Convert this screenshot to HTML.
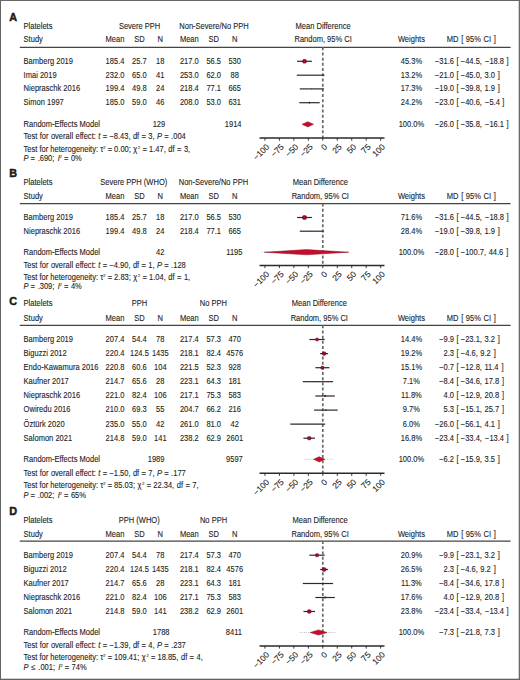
<!DOCTYPE html>
<html><head><meta charset="utf-8"><title>Forest plots</title>
<style>
html,body{margin:0;padding:0;background:#fff;}
body{width:520px;height:680px;overflow:hidden;}
svg{display:block;}
svg{font-family:"Liberation Sans",sans-serif;font-size:8.2px;fill:#222;}
svg text{stroke:#222;stroke-width:0.1px;}
.t{letter-spacing:0.0px;}
</style></head>
<body>
<svg width="520" height="680" viewBox="0 0 520 680">
<rect x="0" y="0" width="520" height="680" fill="#fff"/>
<text x="9.20" y="20.80" font-weight="bold" font-size="10.8" style="stroke:#111;stroke-width:0.45px">A</text>
<text class="t" transform="translate(23.60 28.50) scale(0.92 1)">Platelets</text>
<text class="t" transform="translate(139.60 28.50) scale(0.92 1)" text-anchor="middle">Severe PPH</text>
<text class="t" transform="translate(214.00 28.50) scale(0.92 1)" text-anchor="middle">Non-Severe/No PPH</text>
<text class="t" transform="translate(323.10 28.50) scale(0.92 1)" text-anchor="middle">Mean Difference</text>
<text class="t" transform="translate(23.60 42.40) scale(0.92 1)">Study</text>
<text class="t" transform="translate(115.00 42.40) scale(0.92 1)" text-anchor="middle">Mean</text>
<text class="t" transform="translate(139.40 42.40) scale(0.92 1)" text-anchor="middle">SD</text>
<text class="t" transform="translate(160.30 42.40) scale(0.92 1)" text-anchor="middle">N</text>
<text class="t" transform="translate(189.30 42.40) scale(0.92 1)" text-anchor="middle">Mean</text>
<text class="t" transform="translate(213.70 42.40) scale(0.92 1)" text-anchor="middle">SD</text>
<text class="t" transform="translate(234.70 42.40) scale(0.92 1)" text-anchor="middle">N</text>
<text class="t" transform="translate(323.10 42.40) scale(0.92 1)" text-anchor="middle">Random, 95% CI</text>
<text class="t" transform="translate(411.40 42.40) scale(0.92 1)" text-anchor="middle">Weights</text>
<text class="t" transform="translate(471.30 42.40) scale(0.92 1)" text-anchor="middle" word-spacing="0.6">MD [ 95% CI ]</text>
<line x1="19.80" y1="47.30" x2="510.60" y2="47.30" stroke="#444" stroke-width="1.15"/>
<line x1="322.80" y1="47.30" x2="322.80" y2="138.10" stroke="#6a6a6a" stroke-width="1.7" stroke-dasharray="3.0 2.19"/>
<text class="t" transform="translate(23.60 63.60) scale(0.92 1)">Bamberg 2019</text>
<text class="t" transform="translate(115.00 63.60) scale(0.92 1)" text-anchor="middle">185.4</text>
<text class="t" transform="translate(139.40 63.60) scale(0.92 1)" text-anchor="middle">25.7</text>
<text class="t" transform="translate(160.30 63.60) scale(0.92 1)" text-anchor="middle">18</text>
<text class="t" transform="translate(189.30 63.60) scale(0.92 1)" text-anchor="middle">217.0</text>
<text class="t" transform="translate(213.70 63.60) scale(0.92 1)" text-anchor="middle">56.5</text>
<text class="t" transform="translate(234.70 63.60) scale(0.92 1)" text-anchor="middle">530</text>
<text class="t" transform="translate(411.40 63.60) scale(0.92 1)" text-anchor="middle">45.3%</text>
<text class="t" transform="translate(454.00 63.60) scale(0.92 1)" text-anchor="end">&#8722;31.6</text>
<text class="t" transform="translate(456.60 63.60) scale(0.92 1)">[ &#8722;44.5,<tspan dx="1.10"> &#8722;18.8</tspan><tspan dx="0.40"> ]</tspan></text>
<line x1="297.05" y1="61.30" x2="311.92" y2="61.30" stroke="#2a2a2a" stroke-width="1.2"/>
<rect x="302.76" y="59.55" width="3.50" height="3.50" rx="0.88" fill="#a80f2a" stroke="#6a0a1c" stroke-width="0.7"/>
<text class="t" transform="translate(23.60 77.50) scale(0.92 1)">Imai 2019</text>
<text class="t" transform="translate(115.00 77.50) scale(0.92 1)" text-anchor="middle">232.0</text>
<text class="t" transform="translate(139.40 77.50) scale(0.92 1)" text-anchor="middle">65.0</text>
<text class="t" transform="translate(160.30 77.50) scale(0.92 1)" text-anchor="middle">41</text>
<text class="t" transform="translate(189.30 77.50) scale(0.92 1)" text-anchor="middle">253.0</text>
<text class="t" transform="translate(213.70 77.50) scale(0.92 1)" text-anchor="middle">62.0</text>
<text class="t" transform="translate(234.70 77.50) scale(0.92 1)" text-anchor="middle">88</text>
<text class="t" transform="translate(411.40 77.50) scale(0.92 1)" text-anchor="middle">13.2%</text>
<text class="t" transform="translate(454.00 77.50) scale(0.92 1)" text-anchor="end">&#8722;21.0</text>
<text class="t" transform="translate(456.60 77.50) scale(0.92 1)">[ &#8722;45.0,<tspan dx="0.50"> 3.0</tspan><tspan dx="0.90"> ]</tspan></text>
<line x1="296.76" y1="75.20" x2="324.54" y2="75.20" stroke="#2a2a2a" stroke-width="1.2"/>
<rect x="310.30" y="74.85" width="0.70" height="0.70" fill="#860c22" opacity="0.8"/>
<text class="t" transform="translate(23.60 91.20) scale(0.92 1)">Niepraschk 2016</text>
<text class="t" transform="translate(115.00 91.20) scale(0.92 1)" text-anchor="middle">199.4</text>
<text class="t" transform="translate(139.40 91.20) scale(0.92 1)" text-anchor="middle">49.8</text>
<text class="t" transform="translate(160.30 91.20) scale(0.92 1)" text-anchor="middle">24</text>
<text class="t" transform="translate(189.30 91.20) scale(0.92 1)" text-anchor="middle">218.4</text>
<text class="t" transform="translate(213.70 91.20) scale(0.92 1)" text-anchor="middle">77.1</text>
<text class="t" transform="translate(234.70 91.20) scale(0.92 1)" text-anchor="middle">665</text>
<text class="t" transform="translate(411.40 91.20) scale(0.92 1)" text-anchor="middle">17.3%</text>
<text class="t" transform="translate(454.00 91.20) scale(0.92 1)" text-anchor="end">&#8722;19.0</text>
<text class="t" transform="translate(456.60 91.20) scale(0.92 1)">[ &#8722;39.8,<tspan dx="0.50"> 1.9</tspan><tspan dx="0.90"> ]</tspan></text>
<line x1="299.77" y1="88.90" x2="323.90" y2="88.90" stroke="#2a2a2a" stroke-width="1.2"/>
<rect x="311.35" y="88.45" width="0.90" height="0.90" fill="#860c22" opacity="0.8"/>
<text class="t" transform="translate(23.60 105.00) scale(0.92 1)">Simon 1997</text>
<text class="t" transform="translate(115.00 105.00) scale(0.92 1)" text-anchor="middle">185.0</text>
<text class="t" transform="translate(139.40 105.00) scale(0.92 1)" text-anchor="middle">59.0</text>
<text class="t" transform="translate(160.30 105.00) scale(0.92 1)" text-anchor="middle">46</text>
<text class="t" transform="translate(189.30 105.00) scale(0.92 1)" text-anchor="middle">208.0</text>
<text class="t" transform="translate(213.70 105.00) scale(0.92 1)" text-anchor="middle">53.0</text>
<text class="t" transform="translate(234.70 105.00) scale(0.92 1)" text-anchor="middle">631</text>
<text class="t" transform="translate(411.40 105.00) scale(0.92 1)" text-anchor="middle">24.2%</text>
<text class="t" transform="translate(454.00 105.00) scale(0.92 1)" text-anchor="end">&#8722;23.0</text>
<text class="t" transform="translate(456.60 105.00) scale(0.92 1)">[ &#8722;40.6,<tspan dx="1.10"> &#8722;5.4</tspan><tspan dx="0.40"> ]</tspan></text>
<line x1="299.30" y1="102.70" x2="319.68" y2="102.70" stroke="#2a2a2a" stroke-width="1.2"/>
<rect x="308.99" y="102.20" width="1.00" height="1.00" rx="0.25" fill="#a80f2a" stroke="#6a0a1c" stroke-width="0.7"/>
<text class="t" transform="translate(23.60 126.80) scale(0.92 1)">Random-Effects Model</text>
<text class="t" transform="translate(158.95 126.80) scale(0.92 1)" text-anchor="middle">129</text>
<text class="t" transform="translate(233.15 126.80) scale(0.92 1)" text-anchor="middle">1914</text>
<text class="t" transform="translate(411.40 126.80) scale(0.92 1)" text-anchor="middle">100.0%</text>
<text class="t" transform="translate(454.00 126.80) scale(0.92 1)" text-anchor="end">&#8722;26.0</text>
<text class="t" transform="translate(456.60 126.80) scale(0.92 1)">[ &#8722;35.8,<tspan dx="1.10"> &#8722;16.1</tspan><tspan dx="0.40"> ]</tspan></text>
<polygon points="302.08,124.30 307.75,121.70 313.48,124.30 307.75,126.90" fill="#c80c2c" stroke="#860c22" stroke-width="0.5"/>
<line x1="259.50" y1="138.10" x2="384.50" y2="138.10" stroke="#2a2a2a" stroke-width="1.5"/>
<line x1="264.93" y1="138.10" x2="264.93" y2="140.70" stroke="#222" stroke-width="0.9"/>
<text x="269.93" y="147.40" text-anchor="end" font-size="8.4" transform="rotate(-45 269.93 147.40)">&#8722;100</text>
<line x1="279.40" y1="138.10" x2="279.40" y2="140.70" stroke="#222" stroke-width="0.9"/>
<text x="284.40" y="147.40" text-anchor="end" font-size="8.4" transform="rotate(-45 284.40 147.40)">&#8722;75</text>
<line x1="293.87" y1="138.10" x2="293.87" y2="140.70" stroke="#222" stroke-width="0.9"/>
<text x="298.87" y="147.40" text-anchor="end" font-size="8.4" transform="rotate(-45 298.87 147.40)">&#8722;50</text>
<line x1="308.33" y1="138.10" x2="308.33" y2="140.70" stroke="#222" stroke-width="0.9"/>
<text x="313.33" y="147.40" text-anchor="end" font-size="8.4" transform="rotate(-45 313.33 147.40)">&#8722;25</text>
<line x1="322.80" y1="138.10" x2="322.80" y2="140.70" stroke="#222" stroke-width="0.9"/>
<text x="327.80" y="147.40" text-anchor="end" font-size="8.4" transform="rotate(-45 327.80 147.40)">0</text>
<line x1="337.27" y1="138.10" x2="337.27" y2="140.70" stroke="#222" stroke-width="0.9"/>
<text x="342.27" y="147.40" text-anchor="end" font-size="8.4" transform="rotate(-45 342.27 147.40)">25</text>
<line x1="351.74" y1="138.10" x2="351.74" y2="140.70" stroke="#222" stroke-width="0.9"/>
<text x="356.74" y="147.40" text-anchor="end" font-size="8.4" transform="rotate(-45 356.74 147.40)">50</text>
<line x1="366.20" y1="138.10" x2="366.20" y2="140.70" stroke="#222" stroke-width="0.9"/>
<text x="371.20" y="147.40" text-anchor="end" font-size="8.4" transform="rotate(-45 371.20 147.40)">75</text>
<line x1="380.67" y1="138.10" x2="380.67" y2="140.70" stroke="#222" stroke-width="0.9"/>
<text x="385.67" y="147.40" text-anchor="end" font-size="8.4" transform="rotate(-45 385.67 147.40)">100</text>
<text class="t" transform="translate(23.60 139.00) scale(0.92 1)" word-spacing="0.3">Test for overall effect: <tspan font-style="italic">t</tspan> = &#8722;8.43, df = 3, <tspan font-style="italic">P</tspan> = .004</text>
<text class="t" transform="translate(23.60 151.80) scale(0.92 1)">Test for heterogeneity: &#964;<tspan font-size="4.2" dy="-3.0">2</tspan><tspan dy="3.0" dx="0.3"> = 0.00;</tspan><tspan dx="0.4"> &#967;</tspan><tspan font-size="4.2" dy="-3.0" dx="0.9">2</tspan><tspan dy="3.0" dx="0.3"> = 1.47,<tspan dx="0.5"> df</tspan><tspan dx="0.3"> =</tspan><tspan dx="0.4"> 3,</tspan></tspan></text>
<text class="t" transform="translate(23.60 160.50) scale(0.92 1)" word-spacing="0.3"><tspan font-style="italic">P</tspan><tspan dx="-0.6"> =</tspan><tspan dx="0.5"> .690;</tspan><tspan dx="1.0"> </tspan><tspan font-style="italic">I</tspan><tspan font-size="4.2" dy="-3.0">2</tspan><tspan dy="3.0" dx="-0.2"> = 0%</tspan></text>
<text x="9.20" y="177.00" font-weight="bold" font-size="10.8" style="stroke:#111;stroke-width:0.45px">B</text>
<text class="t" transform="translate(23.60 184.70) scale(0.92 1)">Platelets</text>
<text class="t" transform="translate(133.80 184.70) scale(0.92 1)" text-anchor="middle">Severe PPH (WHO)</text>
<text class="t" transform="translate(213.40 184.70) scale(0.92 1)" text-anchor="middle">Non-Severe/No PPH</text>
<text class="t" transform="translate(320.30 184.70) scale(0.92 1)" text-anchor="middle">Mean Difference</text>
<text class="t" transform="translate(23.60 198.80) scale(0.92 1)">Study</text>
<text class="t" transform="translate(115.00 198.80) scale(0.92 1)" text-anchor="middle">Mean</text>
<text class="t" transform="translate(139.40 198.80) scale(0.92 1)" text-anchor="middle">SD</text>
<text class="t" transform="translate(160.30 198.80) scale(0.92 1)" text-anchor="middle">N</text>
<text class="t" transform="translate(189.30 198.80) scale(0.92 1)" text-anchor="middle">Mean</text>
<text class="t" transform="translate(213.70 198.80) scale(0.92 1)" text-anchor="middle">SD</text>
<text class="t" transform="translate(234.70 198.80) scale(0.92 1)" text-anchor="middle">N</text>
<text class="t" transform="translate(320.30 198.80) scale(0.92 1)" text-anchor="middle">Random, 95% CI</text>
<text class="t" transform="translate(411.40 198.80) scale(0.92 1)" text-anchor="middle">Weights</text>
<text class="t" transform="translate(471.30 198.80) scale(0.92 1)" text-anchor="middle" word-spacing="0.6">MD [ 95% CI ]</text>
<line x1="19.80" y1="203.60" x2="510.60" y2="203.60" stroke="#444" stroke-width="1.15"/>
<line x1="322.80" y1="203.60" x2="322.80" y2="265.50" stroke="#6a6a6a" stroke-width="1.7" stroke-dasharray="3.0 2.19"/>
<text class="t" transform="translate(23.60 219.80) scale(0.92 1)">Bamberg 2019</text>
<text class="t" transform="translate(115.00 219.80) scale(0.92 1)" text-anchor="middle">185.4</text>
<text class="t" transform="translate(139.40 219.80) scale(0.92 1)" text-anchor="middle">25.7</text>
<text class="t" transform="translate(160.30 219.80) scale(0.92 1)" text-anchor="middle">18</text>
<text class="t" transform="translate(189.30 219.80) scale(0.92 1)" text-anchor="middle">217.0</text>
<text class="t" transform="translate(213.70 219.80) scale(0.92 1)" text-anchor="middle">56.5</text>
<text class="t" transform="translate(234.70 219.80) scale(0.92 1)" text-anchor="middle">530</text>
<text class="t" transform="translate(411.40 219.80) scale(0.92 1)" text-anchor="middle">71.6%</text>
<text class="t" transform="translate(454.00 219.80) scale(0.92 1)" text-anchor="end">&#8722;31.6</text>
<text class="t" transform="translate(456.60 219.80) scale(0.92 1)">[ &#8722;44.5,<tspan dx="1.10"> &#8722;18.8</tspan><tspan dx="0.40"> ]</tspan></text>
<line x1="297.05" y1="217.50" x2="311.92" y2="217.50" stroke="#2a2a2a" stroke-width="1.2"/>
<rect x="302.66" y="215.65" width="3.70" height="3.70" rx="0.93" fill="#a80f2a" stroke="#6a0a1c" stroke-width="0.7"/>
<text class="t" transform="translate(23.60 233.50) scale(0.92 1)">Niepraschk 2016</text>
<text class="t" transform="translate(115.00 233.50) scale(0.92 1)" text-anchor="middle">199.4</text>
<text class="t" transform="translate(139.40 233.50) scale(0.92 1)" text-anchor="middle">49.8</text>
<text class="t" transform="translate(160.30 233.50) scale(0.92 1)" text-anchor="middle">24</text>
<text class="t" transform="translate(189.30 233.50) scale(0.92 1)" text-anchor="middle">218.4</text>
<text class="t" transform="translate(213.70 233.50) scale(0.92 1)" text-anchor="middle">77.1</text>
<text class="t" transform="translate(234.70 233.50) scale(0.92 1)" text-anchor="middle">665</text>
<text class="t" transform="translate(411.40 233.50) scale(0.92 1)" text-anchor="middle">28.4%</text>
<text class="t" transform="translate(454.00 233.50) scale(0.92 1)" text-anchor="end">&#8722;19.0</text>
<text class="t" transform="translate(456.60 233.50) scale(0.92 1)">[ &#8722;39.8,<tspan dx="0.50"> 1.9</tspan><tspan dx="0.90"> ]</tspan></text>
<line x1="299.77" y1="231.20" x2="323.90" y2="231.20" stroke="#2a2a2a" stroke-width="1.2"/>
<rect x="311.45" y="230.85" width="0.70" height="0.70" fill="#860c22" opacity="0.8"/>
<text class="t" transform="translate(23.60 254.70) scale(0.92 1)">Random-Effects Model</text>
<text class="t" transform="translate(160.15 254.70) scale(0.92 1)" text-anchor="middle">42</text>
<text class="t" transform="translate(234.35 254.70) scale(0.92 1)" text-anchor="middle">1195</text>
<text class="t" transform="translate(411.40 254.70) scale(0.92 1)" text-anchor="middle">100.0%</text>
<text class="t" transform="translate(454.00 254.70) scale(0.92 1)" text-anchor="end">&#8722;28.0</text>
<text class="t" transform="translate(456.60 254.70) scale(0.92 1)">[ &#8722;100.7,<tspan dx="0.50"> 44.6</tspan><tspan dx="0.90"> ]</tspan></text>
<line x1="261.75" y1="252.20" x2="349.02" y2="252.20" stroke="#aaa" stroke-width="0.8" stroke-dasharray="1 1.2"/>
<polygon points="264.52,252.20 306.60,249.60 348.61,252.20 306.60,254.80" fill="#c80c2c" stroke="#860c22" stroke-width="0.5"/>
<line x1="259.50" y1="265.50" x2="384.50" y2="265.50" stroke="#2a2a2a" stroke-width="1.5"/>
<line x1="264.93" y1="265.50" x2="264.93" y2="268.10" stroke="#222" stroke-width="0.9"/>
<text x="269.93" y="274.80" text-anchor="end" font-size="8.4" transform="rotate(-45 269.93 274.80)">&#8722;100</text>
<line x1="279.40" y1="265.50" x2="279.40" y2="268.10" stroke="#222" stroke-width="0.9"/>
<text x="284.40" y="274.80" text-anchor="end" font-size="8.4" transform="rotate(-45 284.40 274.80)">&#8722;75</text>
<line x1="293.87" y1="265.50" x2="293.87" y2="268.10" stroke="#222" stroke-width="0.9"/>
<text x="298.87" y="274.80" text-anchor="end" font-size="8.4" transform="rotate(-45 298.87 274.80)">&#8722;50</text>
<line x1="308.33" y1="265.50" x2="308.33" y2="268.10" stroke="#222" stroke-width="0.9"/>
<text x="313.33" y="274.80" text-anchor="end" font-size="8.4" transform="rotate(-45 313.33 274.80)">&#8722;25</text>
<line x1="322.80" y1="265.50" x2="322.80" y2="268.10" stroke="#222" stroke-width="0.9"/>
<text x="327.80" y="274.80" text-anchor="end" font-size="8.4" transform="rotate(-45 327.80 274.80)">0</text>
<line x1="337.27" y1="265.50" x2="337.27" y2="268.10" stroke="#222" stroke-width="0.9"/>
<text x="342.27" y="274.80" text-anchor="end" font-size="8.4" transform="rotate(-45 342.27 274.80)">25</text>
<line x1="351.74" y1="265.50" x2="351.74" y2="268.10" stroke="#222" stroke-width="0.9"/>
<text x="356.74" y="274.80" text-anchor="end" font-size="8.4" transform="rotate(-45 356.74 274.80)">50</text>
<line x1="366.20" y1="265.50" x2="366.20" y2="268.10" stroke="#222" stroke-width="0.9"/>
<text x="371.20" y="274.80" text-anchor="end" font-size="8.4" transform="rotate(-45 371.20 274.80)">75</text>
<line x1="380.67" y1="265.50" x2="380.67" y2="268.10" stroke="#222" stroke-width="0.9"/>
<text x="385.67" y="274.80" text-anchor="end" font-size="8.4" transform="rotate(-45 385.67 274.80)">100</text>
<text class="t" transform="translate(23.60 267.50) scale(0.92 1)" word-spacing="0.3">Test for overall effect: <tspan font-style="italic">t</tspan> = &#8722;4.90, df = 1, <tspan font-style="italic">P</tspan> = .128</text>
<text class="t" transform="translate(23.60 280.20) scale(0.92 1)">Test for heterogeneity: &#964;<tspan font-size="4.2" dy="-3.0">2</tspan><tspan dy="3.0" dx="0.3"> = 2.83;</tspan><tspan dx="0.4"> &#967;</tspan><tspan font-size="4.2" dy="-3.0" dx="0.9">2</tspan><tspan dy="3.0" dx="0.3"> = 1.04,<tspan dx="0.5"> df</tspan><tspan dx="0.3"> =</tspan><tspan dx="0.4"> 1,</tspan></tspan></text>
<text class="t" transform="translate(23.60 289.00) scale(0.92 1)" word-spacing="0.3"><tspan font-style="italic">P</tspan><tspan dx="-0.6"> =</tspan><tspan dx="0.5"> .309;</tspan><tspan dx="1.0"> </tspan><tspan font-style="italic">I</tspan><tspan font-size="4.2" dy="-3.0">2</tspan><tspan dy="3.0" dx="-0.2"> = 4%</tspan></text>
<text x="9.20" y="304.80" font-weight="bold" font-size="10.8" style="stroke:#111;stroke-width:0.45px">C</text>
<text class="t" transform="translate(23.60 306.40) scale(0.92 1)">Platelets</text>
<text class="t" transform="translate(139.50 306.40) scale(0.92 1)" text-anchor="middle">PPH</text>
<text class="t" transform="translate(213.30 306.40) scale(0.92 1)" text-anchor="middle">No PPH</text>
<text class="t" transform="translate(319.30 306.40) scale(0.92 1)" text-anchor="middle">Mean Difference</text>
<text class="t" transform="translate(23.60 320.80) scale(0.92 1)">Study</text>
<text class="t" transform="translate(115.00 320.80) scale(0.92 1)" text-anchor="middle">Mean</text>
<text class="t" transform="translate(139.40 320.80) scale(0.92 1)" text-anchor="middle">SD</text>
<text class="t" transform="translate(160.30 320.80) scale(0.92 1)" text-anchor="middle">N</text>
<text class="t" transform="translate(189.30 320.80) scale(0.92 1)" text-anchor="middle">Mean</text>
<text class="t" transform="translate(213.70 320.80) scale(0.92 1)" text-anchor="middle">SD</text>
<text class="t" transform="translate(234.70 320.80) scale(0.92 1)" text-anchor="middle">N</text>
<text class="t" transform="translate(319.30 320.80) scale(0.92 1)" text-anchor="middle">Random, 95% CI</text>
<text class="t" transform="translate(411.40 320.80) scale(0.92 1)" text-anchor="middle">Weights</text>
<text class="t" transform="translate(471.30 320.80) scale(0.92 1)" text-anchor="middle" word-spacing="0.6">MD [ 95% CI ]</text>
<line x1="19.80" y1="325.30" x2="510.60" y2="325.30" stroke="#444" stroke-width="1.15"/>
<line x1="322.80" y1="325.30" x2="322.80" y2="473.30" stroke="#6a6a6a" stroke-width="1.7" stroke-dasharray="3.0 2.19"/>
<text class="t" transform="translate(23.60 341.80) scale(0.92 1)">Bamberg 2019</text>
<text class="t" transform="translate(115.00 341.80) scale(0.92 1)" text-anchor="middle">207.4</text>
<text class="t" transform="translate(139.40 341.80) scale(0.92 1)" text-anchor="middle">54.4</text>
<text class="t" transform="translate(160.30 341.80) scale(0.92 1)" text-anchor="middle">78</text>
<text class="t" transform="translate(189.30 341.80) scale(0.92 1)" text-anchor="middle">217.4</text>
<text class="t" transform="translate(213.70 341.80) scale(0.92 1)" text-anchor="middle">57.3</text>
<text class="t" transform="translate(234.70 341.80) scale(0.92 1)" text-anchor="middle">470</text>
<text class="t" transform="translate(411.40 341.80) scale(0.92 1)" text-anchor="middle">14.4%</text>
<text class="t" transform="translate(454.00 341.80) scale(0.92 1)" text-anchor="end">&#8722;9.9</text>
<text class="t" transform="translate(456.60 341.80) scale(0.92 1)">[ &#8722;23.1,<tspan dx="0.50"> 3.2</tspan><tspan dx="0.90"> ]</tspan></text>
<line x1="309.43" y1="339.50" x2="324.65" y2="339.50" stroke="#2a2a2a" stroke-width="1.2"/>
<rect x="315.77" y="338.20" width="2.60" height="2.60" rx="0.65" fill="#a80f2a" stroke="#6a0a1c" stroke-width="0.7"/>
<text class="t" transform="translate(23.60 355.90) scale(0.92 1)">Biguzzi 2012</text>
<text class="t" transform="translate(115.00 355.90) scale(0.92 1)" text-anchor="middle">220.4</text>
<text class="t" transform="translate(139.40 355.90) scale(0.92 1)" text-anchor="middle">124.5</text>
<text class="t" transform="translate(160.30 355.90) scale(0.92 1)" text-anchor="middle">1435</text>
<text class="t" transform="translate(189.30 355.90) scale(0.92 1)" text-anchor="middle">218.1</text>
<text class="t" transform="translate(213.70 355.90) scale(0.92 1)" text-anchor="middle">82.4</text>
<text class="t" transform="translate(234.70 355.90) scale(0.92 1)" text-anchor="middle">4576</text>
<text class="t" transform="translate(411.40 355.90) scale(0.92 1)" text-anchor="middle">19.2%</text>
<text class="t" transform="translate(454.00 355.90) scale(0.92 1)" text-anchor="end">2.3</text>
<text class="t" transform="translate(456.60 355.90) scale(0.92 1)">[ &#8722;4.6,<tspan dx="0.50"> 9.2</tspan><tspan dx="0.90"> ]</tspan></text>
<line x1="320.14" y1="353.60" x2="328.12" y2="353.60" stroke="#2a2a2a" stroke-width="1.2"/>
<rect x="322.53" y="352.00" width="3.20" height="3.20" rx="0.80" fill="#a80f2a" stroke="#6a0a1c" stroke-width="0.7"/>
<text class="t" transform="translate(23.60 370.00) scale(0.92 1)">Endo-Kawamura 2016</text>
<text class="t" transform="translate(115.00 370.00) scale(0.92 1)" text-anchor="middle">220.8</text>
<text class="t" transform="translate(139.40 370.00) scale(0.92 1)" text-anchor="middle">60.6</text>
<text class="t" transform="translate(160.30 370.00) scale(0.92 1)" text-anchor="middle">104</text>
<text class="t" transform="translate(189.30 370.00) scale(0.92 1)" text-anchor="middle">221.5</text>
<text class="t" transform="translate(213.70 370.00) scale(0.92 1)" text-anchor="middle">52.3</text>
<text class="t" transform="translate(234.70 370.00) scale(0.92 1)" text-anchor="middle">928</text>
<text class="t" transform="translate(411.40 370.00) scale(0.92 1)" text-anchor="middle">15.1%</text>
<text class="t" transform="translate(454.00 370.00) scale(0.92 1)" text-anchor="end">&#8722;0.7</text>
<text class="t" transform="translate(456.60 370.00) scale(0.92 1)">[ &#8722;12.8,<tspan dx="0.50"> 11.4</tspan><tspan dx="0.90"> ]</tspan></text>
<line x1="315.39" y1="367.70" x2="329.40" y2="367.70" stroke="#2a2a2a" stroke-width="1.2"/>
<rect x="320.99" y="366.30" width="2.80" height="2.80" rx="0.70" fill="#a80f2a" stroke="#6a0a1c" stroke-width="0.7"/>
<text class="t" transform="translate(23.60 384.00) scale(0.92 1)">Kaufner 2017</text>
<text class="t" transform="translate(115.00 384.00) scale(0.92 1)" text-anchor="middle">214.7</text>
<text class="t" transform="translate(139.40 384.00) scale(0.92 1)" text-anchor="middle">65.6</text>
<text class="t" transform="translate(160.30 384.00) scale(0.92 1)" text-anchor="middle">28</text>
<text class="t" transform="translate(189.30 384.00) scale(0.92 1)" text-anchor="middle">223.1</text>
<text class="t" transform="translate(213.70 384.00) scale(0.92 1)" text-anchor="middle">64.3</text>
<text class="t" transform="translate(234.70 384.00) scale(0.92 1)" text-anchor="middle">181</text>
<text class="t" transform="translate(411.40 384.00) scale(0.92 1)" text-anchor="middle">7.1%</text>
<text class="t" transform="translate(454.00 384.00) scale(0.92 1)" text-anchor="end">&#8722;8.4</text>
<text class="t" transform="translate(456.60 384.00) scale(0.92 1)">[ &#8722;34.6,<tspan dx="0.50"> 17.8</tspan><tspan dx="0.90"> ]</tspan></text>
<line x1="302.78" y1="381.70" x2="333.10" y2="381.70" stroke="#2a2a2a" stroke-width="1.2"/>
<rect x="317.49" y="381.25" width="0.90" height="0.90" fill="#860c22" opacity="0.8"/>
<text class="t" transform="translate(23.60 398.30) scale(0.92 1)">Niepraschk 2016</text>
<text class="t" transform="translate(115.00 398.30) scale(0.92 1)" text-anchor="middle">221.0</text>
<text class="t" transform="translate(139.40 398.30) scale(0.92 1)" text-anchor="middle">82.4</text>
<text class="t" transform="translate(160.30 398.30) scale(0.92 1)" text-anchor="middle">106</text>
<text class="t" transform="translate(189.30 398.30) scale(0.92 1)" text-anchor="middle">217.1</text>
<text class="t" transform="translate(213.70 398.30) scale(0.92 1)" text-anchor="middle">75.3</text>
<text class="t" transform="translate(234.70 398.30) scale(0.92 1)" text-anchor="middle">583</text>
<text class="t" transform="translate(411.40 398.30) scale(0.92 1)" text-anchor="middle">11.8%</text>
<text class="t" transform="translate(454.00 398.30) scale(0.92 1)" text-anchor="end">4.0</text>
<text class="t" transform="translate(456.60 398.30) scale(0.92 1)">[ &#8722;12.9,<tspan dx="0.50"> 20.8</tspan><tspan dx="0.90"> ]</tspan></text>
<line x1="315.33" y1="396.00" x2="334.84" y2="396.00" stroke="#2a2a2a" stroke-width="1.2"/>
<rect x="324.46" y="395.35" width="1.30" height="1.30" rx="0.33" fill="#a80f2a" stroke="#6a0a1c" stroke-width="0.7"/>
<text class="t" transform="translate(23.60 412.40) scale(0.92 1)">Owiredu 2016</text>
<text class="t" transform="translate(115.00 412.40) scale(0.92 1)" text-anchor="middle">210.0</text>
<text class="t" transform="translate(139.40 412.40) scale(0.92 1)" text-anchor="middle">69.3</text>
<text class="t" transform="translate(160.30 412.40) scale(0.92 1)" text-anchor="middle">55</text>
<text class="t" transform="translate(189.30 412.40) scale(0.92 1)" text-anchor="middle">204.7</text>
<text class="t" transform="translate(213.70 412.40) scale(0.92 1)" text-anchor="middle">66.2</text>
<text class="t" transform="translate(234.70 412.40) scale(0.92 1)" text-anchor="middle">216</text>
<text class="t" transform="translate(411.40 412.40) scale(0.92 1)" text-anchor="middle">9.7%</text>
<text class="t" transform="translate(454.00 412.40) scale(0.92 1)" text-anchor="end">5.3</text>
<text class="t" transform="translate(456.60 412.40) scale(0.92 1)">[ &#8722;15.1,<tspan dx="0.50"> 25.7</tspan><tspan dx="0.90"> ]</tspan></text>
<line x1="314.06" y1="410.10" x2="337.67" y2="410.10" stroke="#2a2a2a" stroke-width="1.2"/>
<rect x="325.47" y="409.70" width="0.80" height="0.80" rx="0.20" fill="#a80f2a" stroke="#6a0a1c" stroke-width="0.7"/>
<text class="t" transform="translate(23.60 426.50) scale(0.92 1)">&#214;zt&#252;rk 2020</text>
<text class="t" transform="translate(115.00 426.50) scale(0.92 1)" text-anchor="middle">235.0</text>
<text class="t" transform="translate(139.40 426.50) scale(0.92 1)" text-anchor="middle">55.0</text>
<text class="t" transform="translate(160.30 426.50) scale(0.92 1)" text-anchor="middle">42</text>
<text class="t" transform="translate(189.30 426.50) scale(0.92 1)" text-anchor="middle">261.0</text>
<text class="t" transform="translate(213.70 426.50) scale(0.92 1)" text-anchor="middle">81.0</text>
<text class="t" transform="translate(234.70 426.50) scale(0.92 1)" text-anchor="middle">42</text>
<text class="t" transform="translate(411.40 426.50) scale(0.92 1)" text-anchor="middle">6.0%</text>
<text class="t" transform="translate(454.00 426.50) scale(0.92 1)" text-anchor="end">&#8722;26.0</text>
<text class="t" transform="translate(456.60 426.50) scale(0.92 1)">[ &#8722;56.1,<tspan dx="0.50"> 4.1</tspan><tspan dx="0.90"> ]</tspan></text>
<line x1="290.33" y1="424.20" x2="325.17" y2="424.20" stroke="#2a2a2a" stroke-width="1.2"/>
<rect x="307.45" y="423.90" width="0.60" height="0.60" fill="#860c22" opacity="0.8"/>
<text class="t" transform="translate(23.60 440.50) scale(0.92 1)">Salomon 2021</text>
<text class="t" transform="translate(115.00 440.50) scale(0.92 1)" text-anchor="middle">214.8</text>
<text class="t" transform="translate(139.40 440.50) scale(0.92 1)" text-anchor="middle">59.0</text>
<text class="t" transform="translate(160.30 440.50) scale(0.92 1)" text-anchor="middle">141</text>
<text class="t" transform="translate(189.30 440.50) scale(0.92 1)" text-anchor="middle">238.2</text>
<text class="t" transform="translate(213.70 440.50) scale(0.92 1)" text-anchor="middle">62.9</text>
<text class="t" transform="translate(234.70 440.50) scale(0.92 1)" text-anchor="middle">2601</text>
<text class="t" transform="translate(411.40 440.50) scale(0.92 1)" text-anchor="middle">16.8%</text>
<text class="t" transform="translate(454.00 440.50) scale(0.92 1)" text-anchor="end">&#8722;23.4</text>
<text class="t" transform="translate(456.60 440.50) scale(0.92 1)">[ &#8722;33.4,<tspan dx="1.10"> &#8722;13.4</tspan><tspan dx="0.40"> ]</tspan></text>
<line x1="303.47" y1="438.20" x2="315.05" y2="438.20" stroke="#2a2a2a" stroke-width="1.2"/>
<rect x="307.71" y="436.65" width="3.10" height="3.10" rx="0.77" fill="#a80f2a" stroke="#6a0a1c" stroke-width="0.7"/>
<text class="t" transform="translate(23.60 461.80) scale(0.92 1)">Random-Effects Model</text>
<text class="t" transform="translate(156.10 461.80) scale(0.92 1)" text-anchor="middle">1989</text>
<text class="t" transform="translate(234.40 461.80) scale(0.92 1)" text-anchor="middle">9597</text>
<text class="t" transform="translate(411.40 461.80) scale(0.92 1)" text-anchor="middle">100.0%</text>
<text class="t" transform="translate(454.00 461.80) scale(0.92 1)" text-anchor="end">&#8722;6.2</text>
<text class="t" transform="translate(456.60 461.80) scale(0.92 1)">[ &#8722;15.9,<tspan dx="0.50"> 3.5</tspan><tspan dx="0.90"> ]</tspan></text>
<line x1="305.15" y1="459.30" x2="333.22" y2="459.30" stroke="#aaa" stroke-width="0.8" stroke-dasharray="1 1.2"/>
<polygon points="313.60,459.30 319.21,456.70 324.83,459.30 319.21,461.90" fill="#c80c2c" stroke="#860c22" stroke-width="0.5"/>
<line x1="259.50" y1="473.30" x2="384.50" y2="473.30" stroke="#2a2a2a" stroke-width="1.5"/>
<line x1="264.93" y1="473.30" x2="264.93" y2="475.90" stroke="#222" stroke-width="0.9"/>
<text x="269.93" y="482.60" text-anchor="end" font-size="8.4" transform="rotate(-45 269.93 482.60)">&#8722;100</text>
<line x1="279.40" y1="473.30" x2="279.40" y2="475.90" stroke="#222" stroke-width="0.9"/>
<text x="284.40" y="482.60" text-anchor="end" font-size="8.4" transform="rotate(-45 284.40 482.60)">&#8722;75</text>
<line x1="293.87" y1="473.30" x2="293.87" y2="475.90" stroke="#222" stroke-width="0.9"/>
<text x="298.87" y="482.60" text-anchor="end" font-size="8.4" transform="rotate(-45 298.87 482.60)">&#8722;50</text>
<line x1="308.33" y1="473.30" x2="308.33" y2="475.90" stroke="#222" stroke-width="0.9"/>
<text x="313.33" y="482.60" text-anchor="end" font-size="8.4" transform="rotate(-45 313.33 482.60)">&#8722;25</text>
<line x1="322.80" y1="473.30" x2="322.80" y2="475.90" stroke="#222" stroke-width="0.9"/>
<text x="327.80" y="482.60" text-anchor="end" font-size="8.4" transform="rotate(-45 327.80 482.60)">0</text>
<line x1="337.27" y1="473.30" x2="337.27" y2="475.90" stroke="#222" stroke-width="0.9"/>
<text x="342.27" y="482.60" text-anchor="end" font-size="8.4" transform="rotate(-45 342.27 482.60)">25</text>
<line x1="351.74" y1="473.30" x2="351.74" y2="475.90" stroke="#222" stroke-width="0.9"/>
<text x="356.74" y="482.60" text-anchor="end" font-size="8.4" transform="rotate(-45 356.74 482.60)">50</text>
<line x1="366.20" y1="473.30" x2="366.20" y2="475.90" stroke="#222" stroke-width="0.9"/>
<text x="371.20" y="482.60" text-anchor="end" font-size="8.4" transform="rotate(-45 371.20 482.60)">75</text>
<line x1="380.67" y1="473.30" x2="380.67" y2="475.90" stroke="#222" stroke-width="0.9"/>
<text x="385.67" y="482.60" text-anchor="end" font-size="8.4" transform="rotate(-45 385.67 482.60)">100</text>
<text class="t" transform="translate(23.60 475.50) scale(0.92 1)" word-spacing="0.3">Test for overall effect: <tspan font-style="italic">t</tspan> = &#8722;1.50, df = 7, <tspan font-style="italic">P</tspan> = .177</text>
<text class="t" transform="translate(23.60 487.80) scale(0.92 1)">Test for heterogeneity: &#964;<tspan font-size="4.2" dy="-3.0">2</tspan><tspan dy="3.0" dx="0.3"> = 85.03;</tspan><tspan dx="0.4"> &#967;</tspan><tspan font-size="4.2" dy="-3.0" dx="0.9">2</tspan><tspan dy="3.0" dx="0.3"> = 22.34,<tspan dx="0.5"> df</tspan><tspan dx="0.3"> =</tspan><tspan dx="0.4"> 7,</tspan></tspan></text>
<text class="t" transform="translate(23.60 497.50) scale(0.92 1)" word-spacing="0.3"><tspan font-style="italic">P</tspan><tspan dx="-0.6"> =</tspan><tspan dx="0.5"> .002;</tspan><tspan dx="1.0"> </tspan><tspan font-style="italic">I</tspan><tspan font-size="4.2" dy="-3.0">2</tspan><tspan dy="3.0" dx="-0.2"> = 65%</tspan></text>
<text x="9.20" y="515.00" font-weight="bold" font-size="10.8" style="stroke:#111;stroke-width:0.45px">D</text>
<text class="t" transform="translate(23.60 522.50) scale(0.92 1)">Platelets</text>
<text class="t" transform="translate(139.20 522.50) scale(0.92 1)" text-anchor="middle">PPH (WHO)</text>
<text class="t" transform="translate(213.50 522.50) scale(0.92 1)" text-anchor="middle">No PPH</text>
<text class="t" transform="translate(320.10 522.50) scale(0.92 1)" text-anchor="middle">Mean Difference</text>
<text class="t" transform="translate(23.60 536.80) scale(0.92 1)">Study</text>
<text class="t" transform="translate(115.00 536.80) scale(0.92 1)" text-anchor="middle">Mean</text>
<text class="t" transform="translate(139.40 536.80) scale(0.92 1)" text-anchor="middle">SD</text>
<text class="t" transform="translate(160.30 536.80) scale(0.92 1)" text-anchor="middle">N</text>
<text class="t" transform="translate(189.30 536.80) scale(0.92 1)" text-anchor="middle">Mean</text>
<text class="t" transform="translate(213.70 536.80) scale(0.92 1)" text-anchor="middle">SD</text>
<text class="t" transform="translate(234.70 536.80) scale(0.92 1)" text-anchor="middle">N</text>
<text class="t" transform="translate(320.10 536.80) scale(0.92 1)" text-anchor="middle">Random, 95% CI</text>
<text class="t" transform="translate(411.40 536.80) scale(0.92 1)" text-anchor="middle">Weights</text>
<text class="t" transform="translate(471.30 536.80) scale(0.92 1)" text-anchor="middle" word-spacing="0.6">MD [ 95% CI ]</text>
<line x1="19.80" y1="541.10" x2="510.60" y2="541.10" stroke="#444" stroke-width="1.15"/>
<line x1="322.80" y1="541.10" x2="322.80" y2="646.00" stroke="#6a6a6a" stroke-width="1.7" stroke-dasharray="3.0 2.19"/>
<text class="t" transform="translate(23.60 557.50) scale(0.92 1)">Bamberg 2019</text>
<text class="t" transform="translate(115.00 557.50) scale(0.92 1)" text-anchor="middle">207.4</text>
<text class="t" transform="translate(139.40 557.50) scale(0.92 1)" text-anchor="middle">54.4</text>
<text class="t" transform="translate(160.30 557.50) scale(0.92 1)" text-anchor="middle">78</text>
<text class="t" transform="translate(189.30 557.50) scale(0.92 1)" text-anchor="middle">217.4</text>
<text class="t" transform="translate(213.70 557.50) scale(0.92 1)" text-anchor="middle">57.3</text>
<text class="t" transform="translate(234.70 557.50) scale(0.92 1)" text-anchor="middle">470</text>
<text class="t" transform="translate(411.40 557.50) scale(0.92 1)" text-anchor="middle">20.9%</text>
<text class="t" transform="translate(454.00 557.50) scale(0.92 1)" text-anchor="end">&#8722;9.9</text>
<text class="t" transform="translate(456.60 557.50) scale(0.92 1)">[ &#8722;23.1,<tspan dx="0.50"> 3.2</tspan><tspan dx="0.90"> ]</tspan></text>
<line x1="309.43" y1="555.20" x2="324.65" y2="555.20" stroke="#2a2a2a" stroke-width="1.2"/>
<rect x="315.62" y="553.75" width="2.90" height="2.90" rx="0.73" fill="#a80f2a" stroke="#6a0a1c" stroke-width="0.7"/>
<text class="t" transform="translate(23.60 571.80) scale(0.92 1)">Biguzzi 2012</text>
<text class="t" transform="translate(115.00 571.80) scale(0.92 1)" text-anchor="middle">220.4</text>
<text class="t" transform="translate(139.40 571.80) scale(0.92 1)" text-anchor="middle">124.5</text>
<text class="t" transform="translate(160.30 571.80) scale(0.92 1)" text-anchor="middle">1435</text>
<text class="t" transform="translate(189.30 571.80) scale(0.92 1)" text-anchor="middle">218.1</text>
<text class="t" transform="translate(213.70 571.80) scale(0.92 1)" text-anchor="middle">82.4</text>
<text class="t" transform="translate(234.70 571.80) scale(0.92 1)" text-anchor="middle">4576</text>
<text class="t" transform="translate(411.40 571.80) scale(0.92 1)" text-anchor="middle">26.5%</text>
<text class="t" transform="translate(454.00 571.80) scale(0.92 1)" text-anchor="end">2.3</text>
<text class="t" transform="translate(456.60 571.80) scale(0.92 1)">[ &#8722;4.6,<tspan dx="0.50"> 9.2</tspan><tspan dx="0.90"> ]</tspan></text>
<line x1="320.14" y1="569.50" x2="328.12" y2="569.50" stroke="#2a2a2a" stroke-width="1.2"/>
<rect x="322.43" y="567.80" width="3.40" height="3.40" rx="0.85" fill="#a80f2a" stroke="#6a0a1c" stroke-width="0.7"/>
<text class="t" transform="translate(23.60 585.80) scale(0.92 1)">Kaufner 2017</text>
<text class="t" transform="translate(115.00 585.80) scale(0.92 1)" text-anchor="middle">214.7</text>
<text class="t" transform="translate(139.40 585.80) scale(0.92 1)" text-anchor="middle">65.6</text>
<text class="t" transform="translate(160.30 585.80) scale(0.92 1)" text-anchor="middle">28</text>
<text class="t" transform="translate(189.30 585.80) scale(0.92 1)" text-anchor="middle">223.1</text>
<text class="t" transform="translate(213.70 585.80) scale(0.92 1)" text-anchor="middle">64.3</text>
<text class="t" transform="translate(234.70 585.80) scale(0.92 1)" text-anchor="middle">181</text>
<text class="t" transform="translate(411.40 585.80) scale(0.92 1)" text-anchor="middle">11.3%</text>
<text class="t" transform="translate(454.00 585.80) scale(0.92 1)" text-anchor="end">&#8722;8.4</text>
<text class="t" transform="translate(456.60 585.80) scale(0.92 1)">[ &#8722;34.6,<tspan dx="0.50"> 17.8</tspan><tspan dx="0.90"> ]</tspan></text>
<line x1="302.78" y1="583.50" x2="333.10" y2="583.50" stroke="#2a2a2a" stroke-width="1.2"/>
<rect x="317.59" y="583.15" width="0.70" height="0.70" fill="#860c22" opacity="0.8"/>
<text class="t" transform="translate(23.60 599.80) scale(0.92 1)">Niepraschk 2016</text>
<text class="t" transform="translate(115.00 599.80) scale(0.92 1)" text-anchor="middle">221.0</text>
<text class="t" transform="translate(139.40 599.80) scale(0.92 1)" text-anchor="middle">82.4</text>
<text class="t" transform="translate(160.30 599.80) scale(0.92 1)" text-anchor="middle">106</text>
<text class="t" transform="translate(189.30 599.80) scale(0.92 1)" text-anchor="middle">217.1</text>
<text class="t" transform="translate(213.70 599.80) scale(0.92 1)" text-anchor="middle">75.3</text>
<text class="t" transform="translate(234.70 599.80) scale(0.92 1)" text-anchor="middle">583</text>
<text class="t" transform="translate(411.40 599.80) scale(0.92 1)" text-anchor="middle">17.6%</text>
<text class="t" transform="translate(454.00 599.80) scale(0.92 1)" text-anchor="end">4.0</text>
<text class="t" transform="translate(456.60 599.80) scale(0.92 1)">[ &#8722;12.9,<tspan dx="0.50"> 20.8</tspan><tspan dx="0.90"> ]</tspan></text>
<line x1="315.33" y1="597.50" x2="334.84" y2="597.50" stroke="#2a2a2a" stroke-width="1.2"/>
<rect x="324.46" y="596.85" width="1.30" height="1.30" rx="0.33" fill="#a80f2a" stroke="#6a0a1c" stroke-width="0.7"/>
<text class="t" transform="translate(23.60 613.80) scale(0.92 1)">Salomon 2021</text>
<text class="t" transform="translate(115.00 613.80) scale(0.92 1)" text-anchor="middle">214.8</text>
<text class="t" transform="translate(139.40 613.80) scale(0.92 1)" text-anchor="middle">59.0</text>
<text class="t" transform="translate(160.30 613.80) scale(0.92 1)" text-anchor="middle">141</text>
<text class="t" transform="translate(189.30 613.80) scale(0.92 1)" text-anchor="middle">238.2</text>
<text class="t" transform="translate(213.70 613.80) scale(0.92 1)" text-anchor="middle">62.9</text>
<text class="t" transform="translate(234.70 613.80) scale(0.92 1)" text-anchor="middle">2601</text>
<text class="t" transform="translate(411.40 613.80) scale(0.92 1)" text-anchor="middle">23.8%</text>
<text class="t" transform="translate(454.00 613.80) scale(0.92 1)" text-anchor="end">&#8722;23.4</text>
<text class="t" transform="translate(456.60 613.80) scale(0.92 1)">[ &#8722;33.4,<tspan dx="1.10"> &#8722;13.4</tspan><tspan dx="0.40"> ]</tspan></text>
<line x1="303.47" y1="611.50" x2="315.05" y2="611.50" stroke="#2a2a2a" stroke-width="1.2"/>
<rect x="307.61" y="609.85" width="3.30" height="3.30" rx="0.82" fill="#a80f2a" stroke="#6a0a1c" stroke-width="0.7"/>
<text class="t" transform="translate(23.60 635.00) scale(0.92 1)">Random-Effects Model</text>
<text class="t" transform="translate(161.15 635.00) scale(0.92 1)" text-anchor="middle">1788</text>
<text class="t" transform="translate(233.85 635.00) scale(0.92 1)" text-anchor="middle">8411</text>
<text class="t" transform="translate(411.40 635.00) scale(0.92 1)" text-anchor="middle">100.0%</text>
<text class="t" transform="translate(454.00 635.00) scale(0.92 1)" text-anchor="end">&#8722;7.3</text>
<text class="t" transform="translate(456.60 635.00) scale(0.92 1)">[ &#8722;21.8,<tspan dx="0.50"> 7.3</tspan><tspan dx="0.90"> ]</tspan></text>
<line x1="299.65" y1="632.50" x2="335.53" y2="632.50" stroke="#aaa" stroke-width="0.8" stroke-dasharray="1 1.2"/>
<polygon points="310.18,632.50 318.58,629.90 327.02,632.50 318.58,635.10" fill="#c80c2c" stroke="#860c22" stroke-width="0.5"/>
<line x1="259.50" y1="646.00" x2="384.50" y2="646.00" stroke="#2a2a2a" stroke-width="1.5"/>
<line x1="264.93" y1="646.00" x2="264.93" y2="648.60" stroke="#222" stroke-width="0.9"/>
<text x="269.93" y="655.30" text-anchor="end" font-size="8.4" transform="rotate(-45 269.93 655.30)">&#8722;100</text>
<line x1="279.40" y1="646.00" x2="279.40" y2="648.60" stroke="#222" stroke-width="0.9"/>
<text x="284.40" y="655.30" text-anchor="end" font-size="8.4" transform="rotate(-45 284.40 655.30)">&#8722;75</text>
<line x1="293.87" y1="646.00" x2="293.87" y2="648.60" stroke="#222" stroke-width="0.9"/>
<text x="298.87" y="655.30" text-anchor="end" font-size="8.4" transform="rotate(-45 298.87 655.30)">&#8722;50</text>
<line x1="308.33" y1="646.00" x2="308.33" y2="648.60" stroke="#222" stroke-width="0.9"/>
<text x="313.33" y="655.30" text-anchor="end" font-size="8.4" transform="rotate(-45 313.33 655.30)">&#8722;25</text>
<line x1="322.80" y1="646.00" x2="322.80" y2="648.60" stroke="#222" stroke-width="0.9"/>
<text x="327.80" y="655.30" text-anchor="end" font-size="8.4" transform="rotate(-45 327.80 655.30)">0</text>
<line x1="337.27" y1="646.00" x2="337.27" y2="648.60" stroke="#222" stroke-width="0.9"/>
<text x="342.27" y="655.30" text-anchor="end" font-size="8.4" transform="rotate(-45 342.27 655.30)">25</text>
<line x1="351.74" y1="646.00" x2="351.74" y2="648.60" stroke="#222" stroke-width="0.9"/>
<text x="356.74" y="655.30" text-anchor="end" font-size="8.4" transform="rotate(-45 356.74 655.30)">50</text>
<line x1="366.20" y1="646.00" x2="366.20" y2="648.60" stroke="#222" stroke-width="0.9"/>
<text x="371.20" y="655.30" text-anchor="end" font-size="8.4" transform="rotate(-45 371.20 655.30)">75</text>
<line x1="380.67" y1="646.00" x2="380.67" y2="648.60" stroke="#222" stroke-width="0.9"/>
<text x="385.67" y="655.30" text-anchor="end" font-size="8.4" transform="rotate(-45 385.67 655.30)">100</text>
<text class="t" transform="translate(23.60 648.00) scale(0.92 1)" word-spacing="0.3">Test for overall effect: <tspan font-style="italic">t</tspan> = &#8722;1.39, df = 4, <tspan font-style="italic">P</tspan> = .237</text>
<text class="t" transform="translate(23.60 660.30) scale(0.92 1)">Test for heterogeneity: &#964;<tspan font-size="4.2" dy="-3.0">2</tspan><tspan dy="3.0" dx="0.3"> = 109.41;</tspan><tspan dx="0.4"> &#967;</tspan><tspan font-size="4.2" dy="-3.0" dx="0.9">2</tspan><tspan dy="3.0" dx="0.3"> = 18.85,<tspan dx="0.5"> df</tspan><tspan dx="0.3"> =</tspan><tspan dx="0.4"> 4,</tspan></tspan></text>
<text class="t" transform="translate(23.60 669.80) scale(0.92 1)" word-spacing="0.3"><tspan font-style="italic">P</tspan><tspan dx="0.4"> &#8804;</tspan><tspan dx="0.5"> .001;</tspan><tspan dx="1.0"> </tspan><tspan font-style="italic">I</tspan><tspan font-size="4.2" dy="-3.0">2</tspan><tspan dy="3.0" dx="-0.2"> = 74%</tspan></text>
<rect x="0" y="0" width="1" height="680" fill="#626262"/>
<rect x="0" y="0" width="520" height="1" fill="#666"/>
<rect x="518.7" y="0" width="1.3" height="680" fill="#6a6a6a"/>
<rect x="0" y="678.7" width="520" height="1.3" fill="#626262"/>
</svg>
</body></html>
